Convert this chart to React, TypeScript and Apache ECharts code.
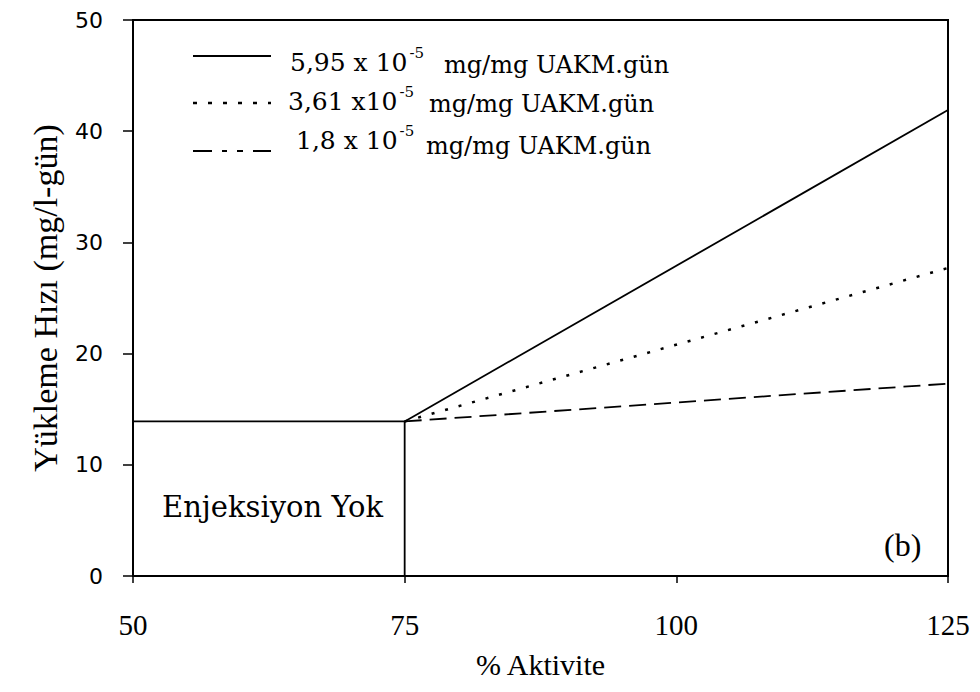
import React, { useEffect, useRef } from "react";
import * as echarts from "echarts";

const xTicks = [50, 75, 100, 125];
const yTicks = [0, 10, 20, 30, 40, 50];
const baseLine: [number, number][] = [[50, 13.9], [75, 13.9], [75, 0]];
const solidLine: [number, number][] = [[75, 13.9], [125, 41.9]];
const dottedLine: [number, number][] = [[75, 13.9], [125, 27.7]];
const dashedLine: [number, number][] = [[75, 13.9], [125, 17.3]];
const legendMain = ["5,95 x 10", "3,61 x10", "1,8 x 10"];
const legendSup = ["-5", "-5", "-5"];
const legendUnit = ["mg/mg UAKM.gün", "mg/mg UAKM.gün", "mg/mg UAKM.gün"];

const SERIF = "'Liberation Serif', serif";
const WSERIF = "'DejaVu Serif', serif";
const SANS = "'DejaVu Sans', sans-serif";

export default function App() {
  const ref = useRef<HTMLDivElement>(null);
  useEffect(() => {
    if (!ref.current) return;
    const chart = echarts.init(ref.current, undefined, { renderer: "svg" });
    const legendDash: any[] = [null, [4, 11], [19, 10, 5, 10, 6, 10, 18]];
    const lineY = [56, 103, 151];
    const mainPos = [[290, 62], [288, 101], [296, 140]];
    const unitPos = [[444, 65], [429, 104], [426, 146]];
    const graphic: any[] = [];
    const txt = (x: number, y: number, text: string, font: string) => ({
      type: "text",
      x,
      y,
      silent: true,
      style: { text, font, fill: "#000", verticalAlign: "middle", align: "left" },
    });
    legendMain.forEach((m, i) => {
      graphic.push({
        type: "line",
        silent: true,
        shape: { x1: 193, y1: lineY[i], x2: 271, y2: lineY[i] },
        style: { stroke: "#000", lineWidth: i === 1 ? 2.5 : 1.8, lineDash: legendDash[i] },
      });
      graphic.push({
        type: "text",
        x: mainPos[i][0],
        y: mainPos[i][1],
        silent: true,
        style: {
          text: `{m|${m}}{s|${legendSup[i]}}`,
          verticalAlign: "middle",
          align: "left",
          rich: {
            m: { fontFamily: WSERIF, fontSize: 25, fill: "#000", lineHeight: 34, verticalAlign: "middle" },
            s: { fontFamily: WSERIF, fontSize: 15, fill: "#000", lineHeight: 15, verticalAlign: "top", padding: [0, 0, 0, 2] },
          },
        },
      });
      graphic.push(txt(unitPos[i][0], unitPos[i][1], legendUnit[i], `24px ${WSERIF}`));
    });
    graphic.push(txt(162, 507, "Enjeksiyon Yok", `29px ${WSERIF}`));
    graphic.push(txt(884, 545, "(b)", `32px ${SERIF}`));

    const mk = (name: string, data: [number, number][], type: any, width = 1.8) => ({
      name,
      type: "line",
      data,
      symbol: "none",
      lineStyle: { color: "#000", width, type },
      silent: true,
    });

    chart.setOption({
      animation: false,
      backgroundColor: "#fff",
      grid: { left: 133, right: 32, top: 20, bottom: 116, show: true, borderColor: "#000", borderWidth: 2 },
      xAxis: {
        type: "value",
        min: xTicks[0],
        max: xTicks[xTicks.length - 1],
        interval: 25,
        name: "% Aktivite",
        nameLocation: "middle",
        nameGap: 73,
        nameTextStyle: { fontFamily: SERIF, fontSize: 30, color: "#000" },
        axisLine: { lineStyle: { color: "#000", width: 2 } },
        axisTick: { length: 7, lineStyle: { color: "#000", width: 1.5 } },
        axisLabel: { fontFamily: SERIF, fontSize: 29, color: "#000", margin: 34 },
        splitLine: { show: false },
      },
      yAxis: {
        type: "value",
        min: yTicks[0],
        max: yTicks[yTicks.length - 1],
        interval: 10,
        name: "Yükleme Hızı (mg/l-gün)",
        nameLocation: "middle",
        nameGap: 71,
        nameTextStyle: { fontFamily: SERIF, fontSize: 34, color: "#000" },
        axisLine: { lineStyle: { color: "#000", width: 2 } },
        axisTick: { length: 10, lineStyle: { color: "#000", width: 1.5 } },
        axisLabel: { fontFamily: SANS, fontSize: 22, color: "#000", margin: 30 },
        splitLine: { show: false },
      },
      series: [
        mk("base", baseLine, "solid"),
        mk("5,95", solidLine, "solid"),
        mk("3,61", dottedLine, [3, 11], 2.5),
        mk("1,8", dashedLine, [17, 8]),
      ],
      graphic,
    });
    return () => chart.dispose();
  }, []);
  return <div ref={ref} style={{ position: "fixed", left: 0, top: 0, width: 980, height: 692 }} />;
}
